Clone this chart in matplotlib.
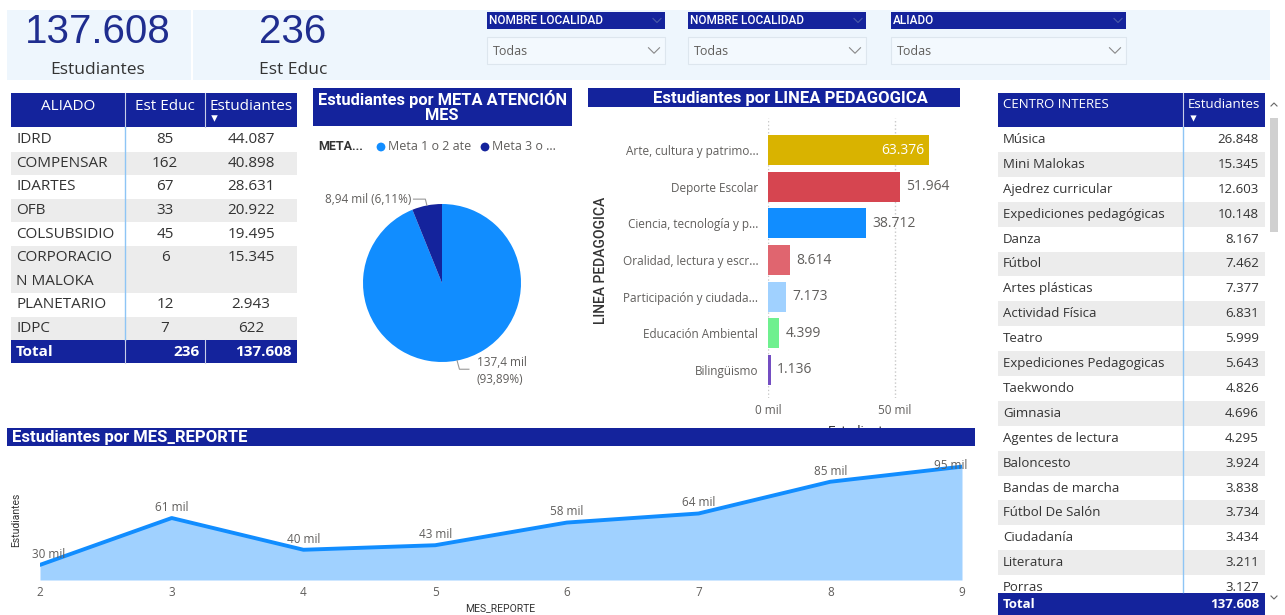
import numpy as np
import matplotlib
matplotlib.use('Agg')
import matplotlib.pyplot as plt
from matplotlib.patches import Rectangle

# --- datos ---
aliados = ['IDRD', 'COMPENSAR', 'IDARTES', 'OFB', 'COLSUBSIDIO',
           'CORPORACIO\nN MALOKA', 'PLANETARIO', 'IDPC']
aliado_est_educ = [85, 162, 67, 33, 45, 6, 12, 7]
aliado_estudiantes = [44087, 40898, 28631, 20922, 19495, 15345, 2943, 622]
total_estudiantes = 137608
total_est_educ = 236

meta_labels = ['Meta 1 o 2 ate', 'Meta 3 o ...']
meta_values = [137400, 8940]

lineas = ['Arte, cultura y patrimo...', 'Deporte Escolar', 'Ciencia, tecnología y p...',
          'Oralidad, lectura y escr...', 'Participación y ciudada...',
          'Educación Ambiental', 'Bilingüismo']
linea_values = [63376, 51964, 38712, 8614, 7173, 4399, 1136]
linea_colors = ['#d9b300', '#d64550', '#118dff', '#e0656f', '#a0d1ff', '#6ff08f', '#744ec2']

meses = [2, 3, 4, 5, 6, 7, 8, 9]
mes_values = [30000, 61000, 40000, 43000, 58000, 64000, 85000, 95000]

centros = ['Música', 'Mini Malokas', 'Ajedrez curricular', 'Expediciones pedagógicas',
           'Danza', 'Fútbol', 'Artes plásticas', 'Actividad Física', 'Teatro',
           'Expediciones Pedagogicas', 'Taekwondo', 'Gimnasia', 'Agentes de lectura',
           'Baloncesto', 'Bandas de marcha', 'Fútbol De Salón', 'Ciudadanía',
           'Literatura', 'Porras']
centro_values = [26848, 15345, 12603, 10148, 8167, 7462, 7377, 6831, 5999, 5643,
                 4826, 4696, 4295, 3924, 3838, 3734, 3434, 3211, 3127]

slicers = ['NOMBRE LOCALIDAD', 'NOMBRE LOCALIDAD', 'ALIADO']

# --- estilo ---
NAVY = '#14239c'
TXT = '#333333'
GRAY = '#605e5c'
ALT = '#ececec'
BAND = '#eef6fd'
SEP = '#8ec5f5'
UI = ['Open Sans', 'DejaVu Sans']
TITLE = ['Roboto', 'DejaVu Sans']

W, H = 1285, 615


def fmt(v):
    return f"{v:,}".replace(',', '.')


def sig3(v):
    k = v / 1000
    d = 2 if k < 10 else 1
    return f"{k:.{d}f}".replace('.', ',') + ' mil'


fig = plt.figure(figsize=(W / 100, H / 100), dpi=100)
fig.patch.set_facecolor('white')


def px_axes(x0, y0, x1, y1):
    return fig.add_axes([x0 / W, 1 - y1 / H, (x1 - x0) / W, (y1 - y0) / H])


def overlay():
    a = fig.add_axes([0, 0, 1, 1])
    a.set_xlim(0, W)
    a.set_ylim(H, 0)
    a.axis('off')
    a.patch.set_alpha(0)
    return a


def chevron(a, x, y, w=10, h=5, color='#777777'):
    a.plot([x - w / 2, x, x + w / 2], [y - h / 2, y + h / 2, y - h / 2], color=color, lw=0.8)


# fondo
bg = overlay()
bg.add_patch(Rectangle((7, 10), 1263, 70, color=BAND, lw=0))
bg.plot([192, 192], [10, 80], color='white', lw=1.5)

# KPIs
bg.text(98, 32, fmt(total_estudiantes), ha='center', va='center', fontsize=29,
        color='#1f2d8f', family=['Liberation Sans', 'DejaVu Sans'])
bg.text(98, 70, 'Estudiantes', ha='center', va='center', fontsize=12.5, color=TXT, family=UI)
bg.text(293, 32, str(total_est_educ), ha='center', va='center', fontsize=29,
        color='#1f2d8f', family=['Liberation Sans', 'DejaVu Sans'])
bg.text(293, 70, 'Est Educ', ha='center', va='center', fontsize=12.5, color=TXT, family=UI)

# slicers
slicer_x = [(487, 665), (688, 866), (891, 1126)]
for (x0, x1), name in zip(slicer_x, slicers):
    bg.add_patch(Rectangle((x0, 12), x1 - x0, 17, color=NAVY, lw=0))
    bg.text(x0 + 2, 20.5, name, ha='left', va='center', fontsize=8.5, color='white',
            family=TITLE, fontweight='medium', fontstretch='condensed')
    chevron(bg, x1 - 8, 20.5, w=8, h=4, color='#4a5aa8')
    bg.add_patch(Rectangle((x0, 37), x1 - x0, 27, facecolor='#f3f9fe', edgecolor='#dde6ee', lw=0.8))
    bg.text(x0 + 6, 51.5, 'Todas', ha='left', va='center', fontsize=9, color=GRAY, family=UI)
    chevron(bg, x1 - 11, 50.5, w=11, h=5.5, color='#888888')

# --- pie ---
axp = px_axes(363, 204, 521, 362)
wedges, _ = axp.pie(meta_values, colors=['#118dff', NAVY], startangle=90, counterclock=False,
                    wedgeprops=dict(linewidth=0))
axp.set_xlim(-1, 1)
axp.set_ylim(-1, 1)
axp.set_aspect('equal')
total_meta = sum(meta_values)
for w_, v in zip(wedges, meta_values):
    ang = np.deg2rad((w_.theta1 + w_.theta2) / 2)
    ex, ey = np.cos(ang), np.sin(ang)
    pct = f"({v / total_meta * 100:.2f}%)".replace('.', ',')
    if ey > 0:
        axp.plot([ex, ex - 0.02, ex - 0.17], [ey, ey + 0.08, ey + 0.08], color='#999999', lw=0.8, clip_on=False)
        axp.text(ex - 0.2, ey + 0.08, f"{sig3(v)} {pct}", ha='right', va='center', fontsize=8.5,
                 color=GRAY, family=UI, clip_on=False)
    else:
        axp.plot([ex, ex + 0.03, ex + 0.15], [ey, ey - 0.11, ey - 0.11], color='#999999', lw=0.8, clip_on=False)
        axp.text(ex + 0.25, ey - 0.02, sig3(v), ha='left', va='center',
                 fontsize=8.5, color=GRAY, family=UI, clip_on=False)
        axp.text(ex + 0.25, ey - 0.24, pct, ha='left', va='center',
                 fontsize=8.5, color=GRAY, family=UI, clip_on=False)

# --- barras ---
axb = px_axes(768, 118, 958, 398)
ypos = np.arange(len(lineas))
axb.barh(ypos, linea_values, height=0.82, color=linea_colors)
axb.set_xlim(0, 75000)
axb.set_ylim(len(lineas) - 0.5 + 0.27, -0.5 - 0.38)
axb.set_yticks(ypos)
axb.set_yticklabels(lineas, fontsize=8.5, color=GRAY, family=UI)
axb.set_xticks([0, 50000])
axb.set_xticklabels(['0 mil', '50 mil'], fontsize=8.5, color=GRAY, family=UI)
axb.tick_params(length=0)
axb.tick_params(axis='y', pad=7)
axb.tick_params(axis='x', pad=4)
for s in axb.spines.values():
    s.set_visible(False)
axb.grid(axis='x', linestyle=':', color='#c8c8c8', lw=1)
axb.set_axisbelow(True)
axb.set_xlabel('Estudiantes', fontsize=9.5, color=TXT, family=TITLE, labelpad=6)
for i, v in enumerate(linea_values):
    if i == 0:
        axb.text(v - 1800, i, fmt(v), ha='right', va='center', fontsize=10, color='white', family=UI)
    else:
        axb.text(v + 2500, i, fmt(v), ha='left', va='center', fontsize=10, color=GRAY, family=UI)

# --- linea ---
axl = px_axes(40, 450, 962, 580)
axl.set_xlim(2, 9)
axl.set_ylim(20000, 106000)
axl.fill_between(meses, mes_values, 20000, color='#a0d1ff', lw=0)
axl.plot(meses, mes_values, color='#118dff', lw=2.8, solid_capstyle='round')
for i, (m, v) in enumerate(zip(meses, mes_values)):
    if i == 0:
        off, ha, va = (-6, 3), 'left', 'bottom'
    elif i == len(meses) - 1:
        off, ha, va = (-8, 1), 'center', 'center'
    else:
        off, ha, va = (0, 3), 'center', 'bottom'
    axl.annotate(f"{v // 1000} mil", (m, v), xytext=off, textcoords='offset points',
                 ha=ha, va=va, fontsize=8.5, color=GRAY, family=UI,
                 annotation_clip=False)
axl.set_xticks(meses)
axl.set_xticklabels([str(m) for m in meses], fontsize=8.5, color=GRAY, family=UI)
axl.set_yticks([])
axl.tick_params(length=0, pad=4)
for s in axl.spines.values():
    s.set_visible(False)
axl.patch.set_alpha(0)

# --- capa superior: encabezados y tablas ---
top = overlay()

# encabezados de visuales
top.add_patch(Rectangle((313, 88), 259, 38, color=NAVY, lw=0))
top.text(442, 107, 'Estudiantes por META ATENCIÓN\nMES', ha='center', va='center', fontsize=11.8,
         color='white', fontweight='bold', family=TITLE, linespacing=1.0)
top.add_patch(Rectangle((588, 88), 372, 19, color=NAVY, lw=0))
top.text(790, 98, 'Estudiantes por LINEA PEDAGOGICA', ha='center', va='center', fontsize=12,
         color='white', fontweight='bold', family=TITLE)
top.add_patch(Rectangle((7, 428), 968, 18, color=NAVY, lw=0))
top.text(12, 437.5, 'Estudiantes por MES_REPORTE', ha='left', va='center', fontsize=12,
         color='white', fontweight='bold', family=TITLE)

# leyenda pie
top.text(318, 147, 'META...', ha='left', va='center', fontsize=9, color=TXT, fontweight='bold', family=TITLE)
top.scatter([381, 485], [147, 147], s=40, c=['#118dff', NAVY], lw=0)
top.text(388, 147, meta_labels[0], ha='left', va='center', fontsize=9, color=GRAY, family=UI)
top.text(492, 147, meta_labels[1], ha='left', va='center', fontsize=9, color=GRAY, family=UI)

# etiquetas ejes
top.text(601, 260, 'LINEA PEDAGOGICA', rotation=90, ha='center', va='center', fontsize=10,
         color=TXT, fontweight='medium', family=TITLE)
top.text(16, 520, 'Estudiantes', rotation=90, ha='center', va='center', fontsize=7.5,
         color=TXT, family=TITLE)
top.text(500, 608, 'MES_REPORTE', ha='center', va='center', fontsize=7.5, color=TXT, family=TITLE)

# tabla ALIADO
tx0, tx1, tx2, tx3 = 11, 125, 205, 297
top.add_patch(Rectangle((tx0, 93), tx3 - tx0, 34, color=NAVY, lw=0))
for xx in (tx1, tx2):
    top.plot([xx, xx], [93, 127], color='#c8cde8', lw=0.8)
top.text((tx0 + tx1) / 2, 106, 'ALIADO', ha='center', va='center', fontsize=11, color='white', family=UI)
top.text((tx1 + tx2) / 2, 106, 'Est Educ', ha='center', va='center', fontsize=11, color='white', family=UI)
top.text((tx2 + tx3) / 2, 106, 'Estudiantes', ha='center', va='center', fontsize=11, color='white', family=UI)
top.scatter([214], [118], marker='v', s=22, c='white', lw=0)
rh = 23.6
y = 128
for i, (n, e, s) in enumerate(zip(aliados, aliado_est_educ, aliado_estudiantes)):
    parts = n.split('\n')
    h = rh * len(parts)
    if i % 2 == 1:
        top.add_patch(Rectangle((tx0, y), tx3 - tx0, h, color=ALT, lw=0))
    for k, p in enumerate(parts):
        top.text(tx0 + 5, y + rh / 2 + k * rh, p, ha='left', va='center', fontsize=11,
                 color=TXT, family=UI)
    top.text((tx1 + tx2) / 2, y + rh / 2, str(e), ha='center', va='center', fontsize=11, color=TXT, family=UI)
    top.text((tx2 + tx3) / 2, y + rh / 2, fmt(s), ha='center', va='center', fontsize=11, color=TXT, family=UI)
    y += h
top.plot([tx1, tx1], [127, y], color=SEP, lw=1)
top.add_patch(Rectangle((tx0, y), tx3 - tx0, 23, color=NAVY, lw=0))
for xx in (tx1, tx2):
    top.plot([xx, xx], [y, y + 23], color='#c8cde8', lw=0.8)
top.text(tx0 + 5, y + 11.5, 'Total', ha='left', va='center', fontsize=11, color='white', fontweight='bold', family=UI)
top.text(tx2 - 5, y + 11.5, str(total_est_educ), ha='right', va='center', fontsize=11, color='white',
         fontweight='bold', family=UI)
top.text(tx3 - 5, y + 11.5, fmt(total_estudiantes), ha='right', va='center', fontsize=11, color='white',
         fontweight='bold', family=UI)

# tabla CENTRO INTERES
cx0, cx1, cx2 = 998, 1183, 1265
top.add_patch(Rectangle((cx0, 93), cx2 - cx0, 34, color=NAVY, lw=0))
top.plot([cx1, cx1], [93, 127], color='#c8cde8', lw=0.8)
top.text(cx0 + 5, 105, 'CENTRO INTERES', ha='left', va='center', fontsize=9.5, color='white', family=UI)
top.text(cx2 - 5, 105, 'Estudiantes', ha='right', va='center', fontsize=9.5, color='white', family=UI)
top.scatter([1193], [118], marker='v', s=20, c='white', lw=0)
row_h = 24.9
y = 127
for i, (n, v) in enumerate(zip(centros, centro_values)):
    if i % 2 == 1:
        top.add_patch(Rectangle((cx0, y), cx2 - cx0, row_h, color=ALT, lw=0))
    top.text(cx0 + 5, y + row_h / 2, n, ha='left', va='center', fontsize=9.5, color=TXT, family=UI)
    top.text(cx2 - 6, y + row_h / 2, fmt(v), ha='right', va='center', fontsize=9.5, color=TXT, family=UI)
    y += row_h
top.add_patch(Rectangle((cx0, 592), cx2 - cx0, 23, color='white', lw=0, zorder=3))
top.add_patch(Rectangle((cx0, 593), cx2 - cx0, 22, color=NAVY, lw=0, zorder=4))
top.plot([cx1, cx1], [127, 592], color=SEP, lw=1, zorder=4)
top.text(cx0 + 5, 604, 'Total', ha='left', va='center', fontsize=9.5, color='white', fontweight='bold',
         family=UI, zorder=5)
top.text(cx2 - 6, 604, fmt(total_estudiantes), ha='right', va='center', fontsize=9.5, color='white',
         fontweight='bold', family=UI, zorder=5)

# barra de desplazamiento
top.add_patch(Rectangle((1270, 118), 8, 114, color='#d0d0d0', lw=0))
top.plot([1271, 1274, 1277], [106, 103, 106], color='#666666', lw=0.8)
top.plot([1271, 1274, 1277], [596, 599, 596], color='#666666', lw=0.8)

fig.savefig('out.png', dpi=100, facecolor='white')
